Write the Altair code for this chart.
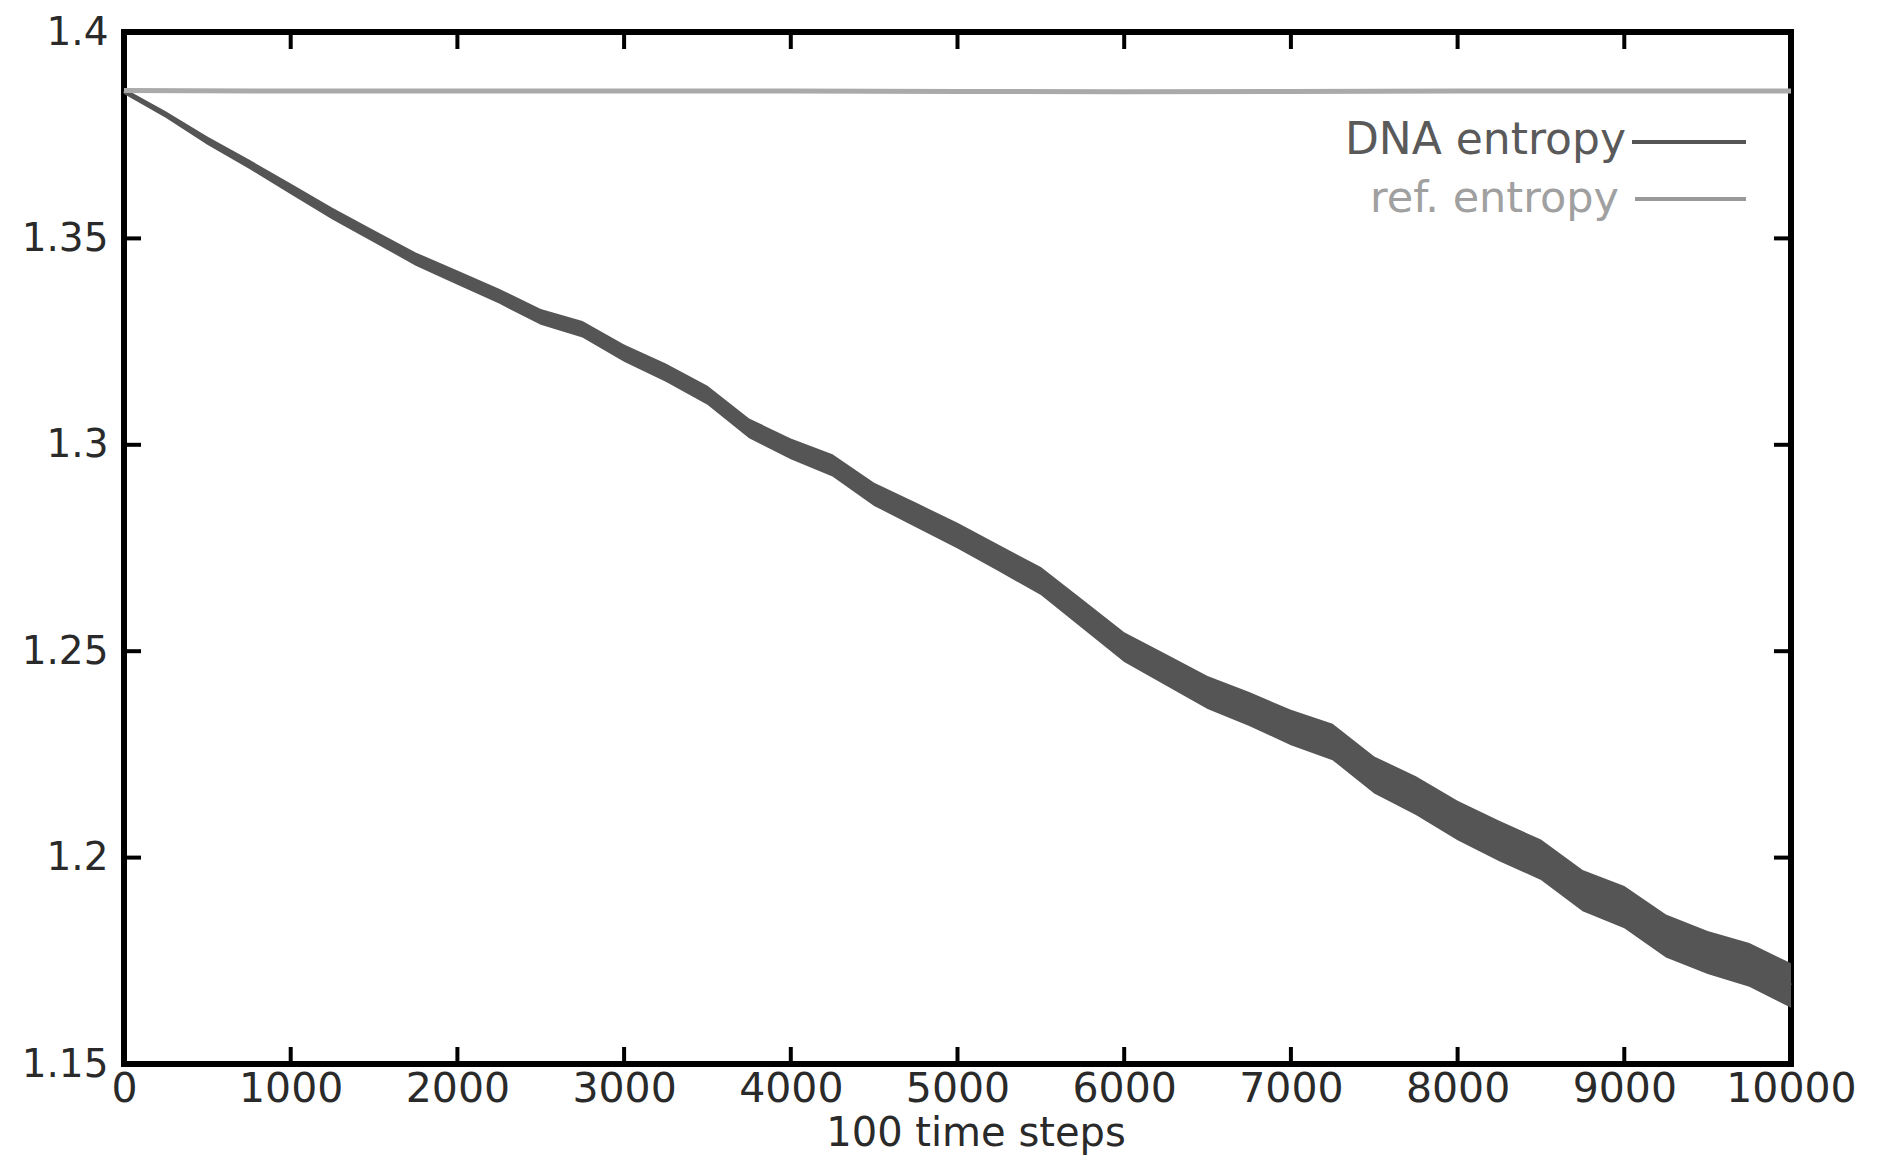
import altair as alt
import pandas as pd

# ---------------- data ----------------
steps = [0, 250, 500, 750, 1000, 1250, 1500, 1750, 2000, 2250, 2500, 2750,
         3000, 3250, 3500, 3750, 4000, 4250, 4500, 4750, 5000, 5250, 5500,
         5750, 6000, 6250, 6500, 6750, 7000, 7250, 7500, 7750, 8000, 8250,
         8500, 8750, 9000, 9250, 9500, 9750, 10000]

dna_center = [1.3857, 1.3800, 1.3737, 1.3680, 1.3620, 1.3560, 1.3505, 1.3450,
              1.3405, 1.3360, 1.3310, 1.3280, 1.3222, 1.3175, 1.3120, 1.3040,
              1.2990, 1.2950, 1.2880, 1.2830, 1.2780, 1.2725, 1.2670, 1.2590,
              1.2510, 1.2455, 1.2400, 1.2360, 1.2315, 1.2280, 1.2200, 1.2150,
              1.2090, 1.2040, 1.1995, 1.1920, 1.1880, 1.1810, 1.1770, 1.1740,
              1.1690]

dna_upper = [1.3864, 1.3808, 1.3747, 1.3691, 1.3633, 1.3574, 1.3520, 1.3466,
             1.3422, 1.3378, 1.3329, 1.3300, 1.3243, 1.3197, 1.3143, 1.3064,
             1.3015, 1.2977, 1.2908, 1.2860, 1.2811, 1.2757, 1.2704, 1.2625,
             1.2546, 1.2493, 1.2440, 1.2401, 1.2358, 1.2324, 1.2245, 1.2197,
             1.2138, 1.2089, 1.2044, 1.1970, 1.1931, 1.1862, 1.1822, 1.1793,
             1.1744]

dna_lower = [1.3850, 1.3792, 1.3727, 1.3669, 1.3607, 1.3546, 1.3490, 1.3434,
             1.3388, 1.3342, 1.3291, 1.3260, 1.3201, 1.3153, 1.3097, 1.3016,
             1.2965, 1.2923, 1.2852, 1.2800, 1.2749, 1.2693, 1.2636, 1.2555,
             1.2474, 1.2417, 1.2360, 1.2319, 1.2272, 1.2236, 1.2155, 1.2103,
             1.2042, 1.1991, 1.1946, 1.1870, 1.1829, 1.1758, 1.1718, 1.1687,
             1.1636]

ref_steps = [0, 1000, 2000, 3000, 4000, 5000, 6000, 7000, 8000, 9000, 10000]
ref_entropy = [1.3858, 1.3857, 1.3857, 1.3857, 1.3857, 1.3856, 1.3855,
               1.3856, 1.3857, 1.3857, 1.3857]

x_tick_values = [0, 1000, 2000, 3000, 4000, 5000, 6000, 7000, 8000, 9000, 10000]
y_tick_values = [1.15, 1.2, 1.25, 1.3, 1.35, 1.4]
x_inner_ticks = [1000, 2000, 3000, 4000, 5000, 6000, 7000, 8000, 9000]
y_inner_ticks = [1.2, 1.25, 1.3, 1.35]

legend_names = ["DNA entropy", "ref. entropy"]
x_title = "100 time steps"

# ---------------- styling ----------------
W, H = 1667, 1032
FONT = "DejaVu Sans"
DNA_COLOR = "#555555"
REF_COLOR = "#aaaaaa"
TICK_LEN = 17

x_scale = alt.Scale(domain=[0, 10000], nice=False, zero=False)
y_scale = alt.Scale(domain=[1.15, 1.4], nice=False, zero=False)

dna_df = pd.DataFrame({"step": steps, "center": dna_center,
                       "upper": dna_upper, "lower": dna_lower})
ref_df = pd.DataFrame({"step": ref_steps, "value": ref_entropy})
xt_df = pd.DataFrame({"step": x_inner_ticks})
yt_df = pd.DataFrame({"value": y_inner_ticks})

x_axis = alt.Axis(values=x_tick_values, format="d", ticks=False, domain=False,
                  grid=False, labelFont=FONT, labelFontSize=41, labelColor="#2a2a2a",
                  labelPadding=5, labelOverlap=False, labelFlush=False,
                  title=x_title, titleFont=FONT, titleFontSize=40,
                  titleFontWeight="normal", titleColor="#2a2a2a", titlePadding=4,
                  titleX=W / 2 + 18)
y_axis = alt.Axis(values=y_tick_values, format="~g", ticks=False, domain=False,
                  grid=False, labelFont=FONT, labelFontSize=39, labelColor="#2a2a2a",
                  labelPadding=16, labelOverlap=False, labelFlush=False, title=None)


def X(field):
    return alt.X(field, scale=x_scale, axis=x_axis, title=x_title)


def Y(field):
    return alt.Y(field, scale=y_scale, axis=y_axis, title=None)


band = alt.Chart(dna_df).mark_area(color=DNA_COLOR, opacity=1).encode(
    x=X("step:Q"), y=Y("upper:Q"), y2="lower:Q",
)

center = alt.Chart(dna_df).mark_line(color=DNA_COLOR, strokeWidth=4).encode(
    x=X("step:Q"), y=Y("center:Q"),
)

ref = alt.Chart(ref_df).mark_line(color=REF_COLOR, strokeWidth=5).encode(
    x=X("step:Q"), y=Y("value:Q"),
)

top_ticks = alt.Chart(xt_df).mark_rule(color="black", strokeWidth=4).encode(
    x=X("step:Q"), y=alt.value(0), y2=alt.value(TICK_LEN),
)
bottom_ticks = alt.Chart(xt_df).mark_rule(color="black", strokeWidth=4).encode(
    x=X("step:Q"), y=alt.value(H - TICK_LEN), y2=alt.value(H),
)
left_ticks = alt.Chart(yt_df).mark_rule(color="black", strokeWidth=4).encode(
    y=Y("value:Q"), x=alt.value(0), x2=alt.value(TICK_LEN),
)
right_ticks = alt.Chart(yt_df).mark_rule(color="black", strokeWidth=4).encode(
    y=Y("value:Q"), x=alt.value(W - TICK_LEN), x2=alt.value(W),
)

# legend (gnuplot style: text right-aligned, sample line to the right)
leg_text1 = alt.Chart(pd.DataFrame({"name": [legend_names[0]]})).mark_text(
    align="right", baseline="middle", font=FONT, fontSize=44, color="#5a5a5a"
).encode(text="name:N", x=alt.value(1502), y=alt.value(109))
leg_text2 = alt.Chart(pd.DataFrame({"name": [legend_names[1]]})).mark_text(
    align="right", baseline="middle", font=FONT, fontSize=43, color="#a0a0a0"
).encode(text="name:N", x=alt.value(1495), y=alt.value(167))
leg_line1 = alt.Chart(pd.DataFrame({"name": [legend_names[0]]})).mark_rule(
    color=DNA_COLOR, strokeWidth=4
).encode(x=alt.value(1508), x2=alt.value(1622), y=alt.value(110))
leg_line2 = alt.Chart(pd.DataFrame({"name": [legend_names[1]]})).mark_rule(
    color="#999999", strokeWidth=4
).encode(x=alt.value(1511), x2=alt.value(1622), y=alt.value(167))

chart = alt.layer(
    band, center, ref, top_ticks, bottom_ticks, left_ticks, right_ticks,
    leg_text1, leg_text2, leg_line1, leg_line2
).properties(
    width=W, height=H,
    padding={"left": 116, "top": 24, "right": 70, "bottom": 96},
    autosize=alt.AutoSizeParams(type="none"),
    background="white",
).configure_view(stroke="black", strokeWidth=6)

chart.save("out.html", embed_options={"renderer": "svg", "actions": False})
